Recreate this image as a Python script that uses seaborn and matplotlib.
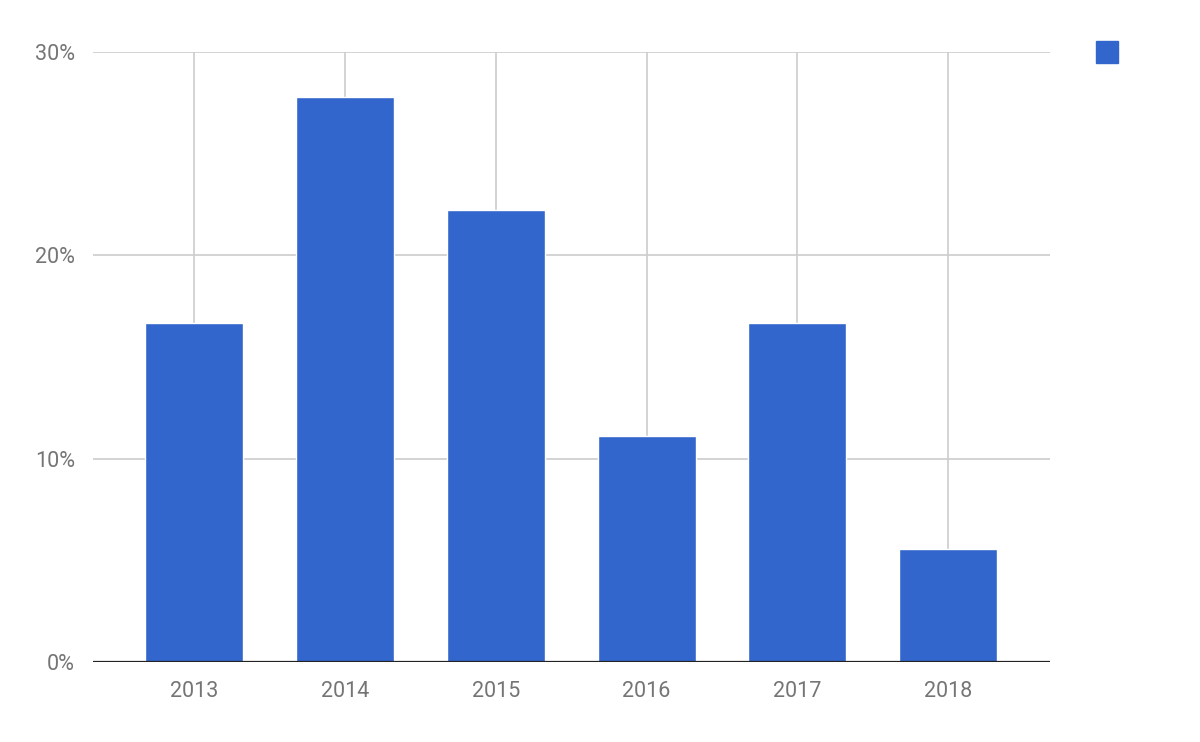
import matplotlib
matplotlib.use("Agg")
import matplotlib.pyplot as plt
from matplotlib.lines import Line2D
import seaborn as sns
import pandas as pd

years = ["2013", "2014", "2015", "2016", "2017", "2018"]
shares = [16.67, 27.78, 22.22, 11.11, 16.67, 5.56]
y_ticks = [0, 10, 20, 30]
y_tick_labels = ["0%", "10%", "20%", "30%"]

bar_color = "#3366CC"
grid_color = "#CCCCCC"
text_color = "#757575"

sns.set_style("white")
plt.rcParams['font.family'] = ['Roboto', 'DejaVu Sans']

df = pd.DataFrame({"year": years, "share": shares})

fig = plt.figure(figsize=(12, 7.42), dpi=100)
ax = fig.add_axes([0.0775, 0.1078, 0.7975, 0.822])

sns.barplot(data=df, x="year", y="share", color=bar_color, saturation=1,
            width=0.65, ax=ax, zorder=3)

ax.set_ylim(0, 30)
ax.set_xlim(-0.67, 5.675)
ax.set_yticks(y_ticks)
ax.set_yticklabels(y_tick_labels)
ax.set_xlabel("")
ax.set_ylabel("")

ax.grid(True, axis="both", color=grid_color, linewidth=1.2, zorder=0)
ax.set_axisbelow(True)
ax.axhline(0, color="#222222", linewidth=1.6, zorder=4)
for s in ax.spines.values():
    s.set_visible(False)

ax.tick_params(axis="both", length=0, labelsize=15.5, labelcolor=text_color)
ax.tick_params(axis="y", pad=13)
ax.tick_params(axis="x", pad=14)

handle = Line2D([], [], marker="s", linestyle="none", markersize=16,
                markerfacecolor=bar_color, markeredgecolor=bar_color)
leg = fig.legend(handles=[handle], labels=[""], loc="upper left",
                 bbox_to_anchor=(0.905, 0.948), frameon=False,
                 handletextpad=0, borderpad=0)

fig.savefig("out.png", dpi=100, facecolor="white")
